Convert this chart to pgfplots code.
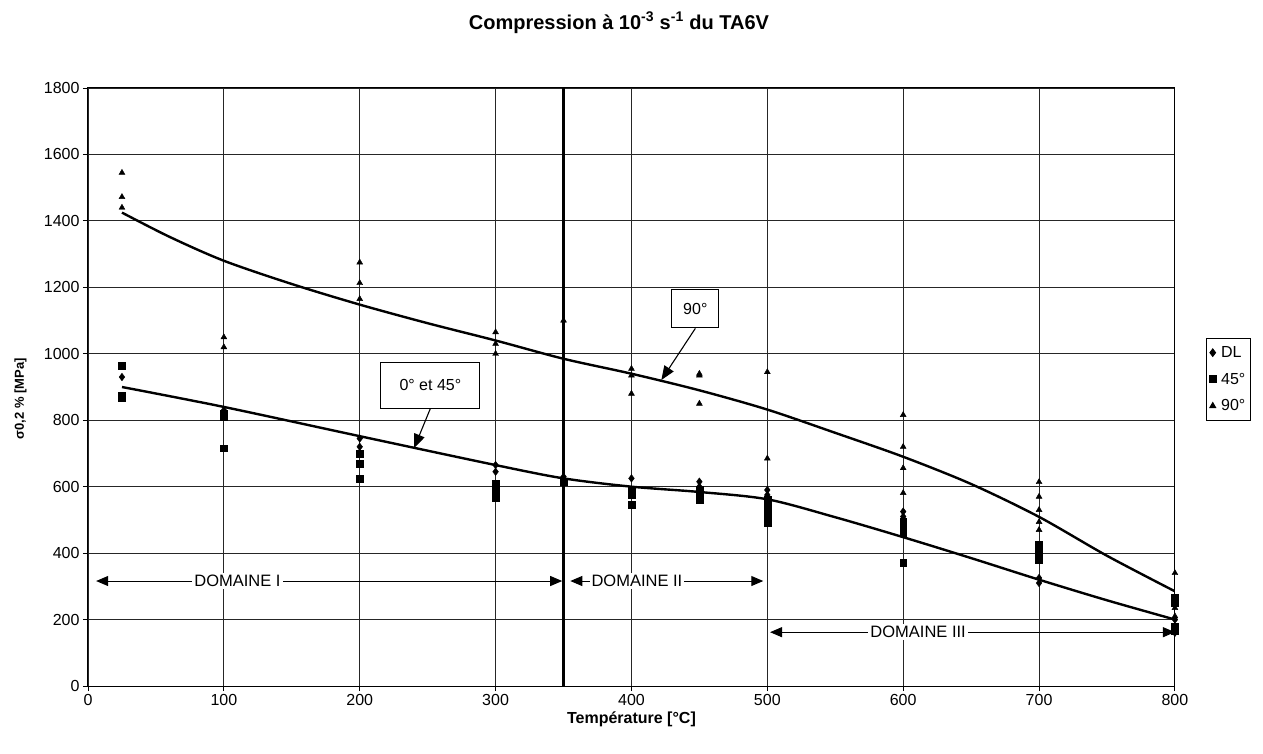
\documentclass[border=0pt]{standalone}
\usepackage{fontspec}
\setmainfont{Liberation Sans}
\usepackage{pgfplots}
\pgfplotsset{compat=1.18}
\usetikzlibrary{arrows.meta}
\begin{document}
\begin{tikzpicture}
\useasboundingbox (-88pt,-67pt) rectangle (1175pt,686pt);
\begin{axis}[
  at={(0,0)}, anchor=south west, scale only axis,
  width=1087pt, height=598pt,
  xmin=0, xmax=800, ymin=0, ymax=1800,
  xtick={0,100,...,800}, ytick={0,200,...,1800},
  grid=major, grid style={black!85, line width=0.9pt},
  axis line style={black, line width=1pt},
  tick align=outside, xtick pos=left, ytick pos=left,
  major tick length=5pt, tick style={black, line width=0.9pt},
  tick label style={font=\fontsize{16}{18}\selectfont},
  /pgf/number format/assume math mode=true,
  /pgf/number format/1000 sep={},
  scaled ticks=false,
  xlabel={Température [°C]},
  ylabel={σ0,2 \% [MPa]},
  xlabel style={font=\fontsize{16}{18}\selectfont\bfseries, at={(axis description cs:0.5,-0.056)}, anchor=center},
  ylabel style={font=\fontsize{13}{15}\selectfont\bfseries, at={(axis description cs:-0.062,0.48)}, anchor=center},
  title={Compression à 10\textsuperscript{-3} s\textsuperscript{-1} du TA6V},
  title style={font=\fontsize{20}{22}\selectfont\bfseries, at={(axis description cs:0.4885,1.099)}, anchor=center},
  legend style={at={(1.0285,0.582)}, anchor=north west, draw=black, line width=0.9pt,
    font=\fontsize{16}{18}\selectfont, row sep=10pt, inner xsep=3pt, inner ysep=6pt,
    /tikz/every odd column/.append style={column sep=3pt}},
  legend cell align=left,
]
% thick vertical line at 350
\addplot[black, line width=2.4pt, forget plot] coordinates {(350,0) (350,1800)};

% trend curves
\addplot[black, line width=2.4pt, smooth, no marks, forget plot] coordinates {
(25,1425) (60,1352) (100,1280) (150,1210) (200,1148) (250,1092) (300,1040) (350,985) (400,940) (450,890) (500,832) (550,762) (600,690) (650,608) (700,509) (750,392) (800,285)};
\addplot[black, line width=2.4pt, smooth, no marks, forget plot] coordinates {
(25,900) (100,840) (200,752) (300,665) (350,625) (400,600) (450,584) (500,562) (550,508) (600,448) (650,385) (700,320) (750,258) (800,200)};

% DL
\addplot[only marks, mark=diamond*, mark size=3.8pt, black] coordinates {
(25,930) (100,830) (200,745) (200,720) (300,665) (300,645) (350,630) (400,625)
(450,615) (450,600) (500,590) (500,575) (600,525) (600,510) (700,325) (700,310)
(800,200) (800,175) (800,160)};
% 45
\addplot[only marks, mark=square*, mark size=3.4pt, black] coordinates {
(25,963) (25,875) (25,868) (100,820) (100,810) (100,716) (200,700) (200,670) (200,625)
(300,610) (300,595) (300,580) (300,565) (350,615) (400,590) (400,575) (400,545)
(450,590) (450,575) (450,560) (500,560) (500,545) (500,525) (500,505) (500,490)
(600,495) (600,480) (600,460) (600,370) (700,425) (700,410) (700,395) (700,380)
(800,265) (800,250) (800,180) (800,165)};
% 90
\addplot[only marks, mark=triangle*, mark size=3.4pt, black] coordinates {
(25,1545) (25,1472) (25,1440) (100,1050) (100,1020) (200,1275) (200,1213) (200,1165)
(300,1065) (300,1030) (300,1000) (350,1100) (400,955) (400,935) (400,880)
(450,940) (450,935) (450,850) (500,945) (500,685) (600,816) (600,720) (600,656) (600,581)
(700,614) (700,570) (700,530) (700,494) (700,470) (800,340) (800,235) (800,210)};
\legend{DL,45°,90°}

% annotation boxes
\node[draw=black, fill=white, line width=1pt, minimum width=47pt, minimum height=38pt,
  font=\fontsize{16}{18}\selectfont] (b90) at (axis cs:447,1135) {90°};
\draw[black, line width=1.1pt, -{Triangle[length=14pt,width=11pt]}] (b90.south) -- (axis cs:422,921);
\node[draw=black, fill=white, line width=1pt, minimum width=99pt, minimum height=46pt,
  font=\fontsize{16}{18}\selectfont] (b045) at (axis cs:252,906) {0° et 45°};
\draw[black, line width=1.1pt, -{Triangle[length=14pt,width=11pt]}] (b045.south) -- (axis cs:240,716);

% domains
\draw[black, line width=1pt, {Triangle[length=12pt,width=10pt]}-{Triangle[length=12pt,width=10pt]}] (axis cs:6,316) -- (axis cs:349,316);
\node[fill=white, inner sep=2pt, font=\fontsize{16.5}{18}\selectfont] at (axis cs:110,316) {DOMAINE I};
\draw[black, line width=1pt, {Triangle[length=12pt,width=10pt]}-{Triangle[length=12pt,width=10pt]}] (axis cs:355,316) -- (axis cs:497,316);
\node[fill=white, inner sep=2pt, font=\fontsize{16.5}{18}\selectfont] at (axis cs:404,316) {DOMAINE II};
\draw[black, line width=1pt, {Triangle[length=12pt,width=10pt]}-{Triangle[length=12pt,width=10pt]}] (axis cs:502,162) -- (axis cs:800,162);
\node[fill=white, inner sep=2pt, font=\fontsize{16.5}{18}\selectfont] at (axis cs:611,162) {DOMAINE III};
\end{axis}
\end{tikzpicture}
\end{document}
